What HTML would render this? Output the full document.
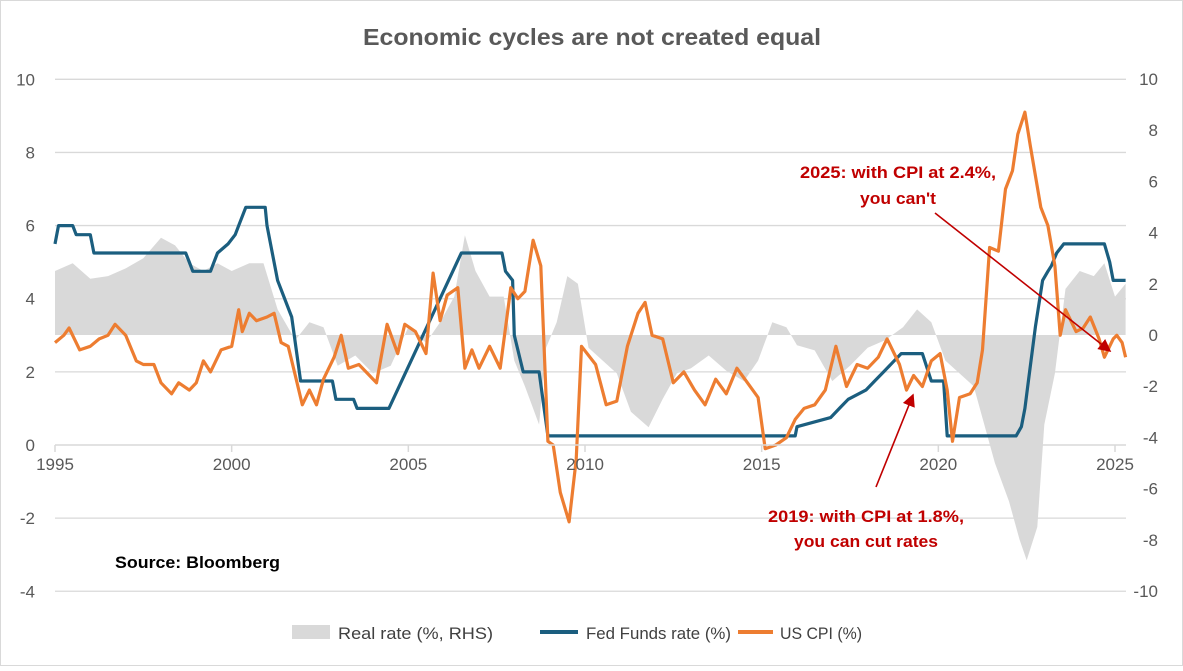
<!DOCTYPE html>
<html><head><meta charset="utf-8"><style>
body{margin:0;background:#fff;}
svg{font-family:"Liberation Sans",Calibri,sans-serif;}
</style></head><body>
<svg id="c" width="1183" height="666">
<rect x="0.5" y="0.5" width="1182" height="665" fill="#fff" stroke="#d9d9d9"/>
<text x="363" y="45" textLength="458" lengthAdjust="spacingAndGlyphs" font-size="23" font-weight="bold" fill="#595959">Economic cycles are not created equal</text>
<g id="grid"></g><g id="area"></g><g id="lines"></g><g id="axes"></g>
<text x="115" y="568" textLength="165" lengthAdjust="spacingAndGlyphs" font-size="17" font-weight="bold" fill="#000">Source: Bloomberg</text>
<g fill="#c00000" font-size="17" font-weight="bold">
<text><tspan x="800" y="178" textLength="196" lengthAdjust="spacingAndGlyphs">2025: with CPI at 2.4%,</tspan><tspan x="860" y="204" textLength="76" lengthAdjust="spacingAndGlyphs">you can't</tspan></text>
<text><tspan x="768" y="522" textLength="196" lengthAdjust="spacingAndGlyphs">2019: with CPI at 1.8%,</tspan><tspan x="794" y="547" textLength="144" lengthAdjust="spacingAndGlyphs">you can cut rates</tspan></text>
</g>
<defs><marker id="ah" markerWidth="8" markerHeight="8" refX="7" refY="4" orient="auto"><path d="M0,0L8,4L0,8z" fill="#c00000"/></marker></defs>
<line x1="935" y1="213" x2="1110" y2="351" stroke="#c00000" stroke-width="1.6" marker-end="url(#ah)"/>
<line x1="876" y1="487" x2="913" y2="395" stroke="#c00000" stroke-width="1.6" marker-end="url(#ah)"/>
<g font-size="17" fill="#404040">
<rect x="292" y="625" width="38" height="14" fill="#d9d9d9"/>
<text x="338" y="639" textLength="155" lengthAdjust="spacingAndGlyphs">Real rate (%, RHS)</text>
<line x1="540" y1="632" x2="578" y2="632" stroke="#1b5e7f" stroke-width="4"/>
<text x="586" y="639" textLength="145" lengthAdjust="spacingAndGlyphs">Fed Funds rate (%)</text>
<line x1="738" y1="632" x2="773" y2="632" stroke="#ed7d31" stroke-width="4"/>
<text x="780" y="639" textLength="82" lengthAdjust="spacingAndGlyphs">US CPI (%)</text>
</g>
</svg>
<script>
const leftTicks=[10,8,6,4,2,0,-2,-4];
const rightTicks=[10,8,6,4,2,0,-2,-4,-6,-8,-10];
const yearTicks=[1995,2000,2005,2010,2015,2020,2025];
const fedT=[1995,1995.1,1995.5,1995.6,1996,1996.1,1998.7,1998.8,1998.9,1999.4,1999.5,1999.6,1999.9,2000.1,2000.2,2000.4,2000.95,2001.0,2001.3,2001.7,2001.95,2002.85,2002.95,2003.45,2003.55,2004.45,2006.5,2007.65,2007.75,2007.95,2008.0,2008.25,2008.7,2008.95,2015.95,2016.0,2016.95,2017.2,2017.45,2017.95,2018.2,2018.45,2018.7,2018.95,2019.55,2019.8,2020.15,2020.25,2022.2,2022.35,2022.45,2022.55,2022.75,2022.95,2023.1,2023.2,2023.35,2023.55,2024.7,2024.85,2024.95,2025.3];
const fedV=[5.5,6,6,5.75,5.75,5.25,5.25,5.0,4.75,4.75,5.0,5.25,5.5,5.75,6.0,6.5,6.5,6.0,4.5,3.5,1.75,1.75,1.25,1.25,1.0,1.0,5.25,5.25,4.75,4.5,3.0,2.0,2.0,0.25,0.25,0.5,0.75,1.0,1.25,1.5,1.75,2.0,2.25,2.5,2.5,1.75,1.75,0.25,0.25,0.5,1.0,1.75,3.25,4.5,4.75,4.9,5.25,5.5,5.5,5.0,4.5,4.5];
const cpiT=[1995,1995.25,1995.4,1995.7,1996,1996.25,1996.5,1996.7,1997,1997.3,1997.5,1997.8,1998,1998.3,1998.5,1998.8,1999,1999.2,1999.4,1999.7,2000,2000.2,2000.3,2000.5,2000.7,2001,2001.2,2001.4,2001.6,2001.8,2002,2002.2,2002.4,2002.6,2002.9,2003.1,2003.3,2003.6,2003.9,2004.1,2004.4,2004.7,2004.9,2005.2,2005.5,2005.7,2005.9,2006.1,2006.4,2006.6,2006.8,2007,2007.3,2007.6,2007.9,2008.1,2008.3,2008.53,2008.75,2008.95,2009.1,2009.3,2009.55,2009.75,2009.9,2010.3,2010.6,2010.9,2011.2,2011.5,2011.7,2011.9,2012.2,2012.5,2012.8,2013.1,2013.4,2013.7,2014,2014.3,2014.6,2014.9,2015.1,2015.4,2015.7,2015.95,2016.2,2016.5,2016.8,2017.1,2017.4,2017.7,2018,2018.3,2018.55,2018.9,2019.1,2019.3,2019.55,2019.8,2020.05,2020.25,2020.4,2020.6,2020.9,2021.1,2021.25,2021.45,2021.7,2021.9,2022.1,2022.25,2022.45,2022.6,2022.9,2023.1,2023.3,2023.45,2023.6,2023.9,2024.1,2024.3,2024.55,2024.7,2024.95,2025.05,2025.2,2025.3];
const cpiV=[2.8,3.0,3.2,2.6,2.7,2.9,3.0,3.3,3.0,2.3,2.2,2.2,1.7,1.4,1.7,1.5,1.7,2.3,2.0,2.6,2.7,3.7,3.1,3.6,3.4,3.5,3.6,2.8,2.7,1.9,1.1,1.5,1.1,1.8,2.4,3.0,2.1,2.2,1.9,1.7,3.3,2.5,3.3,3.1,2.5,4.7,3.4,4.1,4.3,2.1,2.6,2.1,2.7,2.1,4.3,4.0,4.2,5.6,4.9,0.1,0.0,-1.3,-2.1,-0.4,2.7,2.2,1.1,1.2,2.7,3.6,3.9,3.0,2.9,1.7,2.0,1.5,1.1,1.8,1.4,2.1,1.7,1.3,-0.1,0.0,0.2,0.7,1.0,1.1,1.5,2.7,1.6,2.2,2.1,2.4,2.9,2.2,1.5,1.9,1.6,2.3,2.5,1.5,0.1,1.3,1.4,1.7,2.6,5.4,5.3,7.0,7.5,8.5,9.1,8.2,6.5,6.0,4.9,3.0,3.7,3.1,3.2,3.5,2.9,2.4,2.9,3.0,2.8,2.4];
const realT=[1995,1995.5,1996,1996.5,1997,1997.5,1998,1998.4,1998.8,1999.2,1999.6,2000,2000.5,2000.9,2001.3,2001.8,2002.2,2002.6,2003,2003.5,2004,2004.5,2005,2005.5,2005.9,2006.3,2006.6,2006.9,2007.3,2007.7,2008,2008.3,2008.7,2008.9,2009.2,2009.5,2009.8,2010.1,2010.5,2010.9,2011.3,2011.8,2012.2,2012.6,2013,2013.5,2014,2014.5,2014.9,2015.3,2015.7,2016,2016.5,2017,2017.5,2018,2018.5,2019,2019.4,2019.8,2020.2,2020.6,2021,2021.3,2021.6,2022,2022.3,2022.5,2022.8,2023,2023.3,2023.6,2024,2024.4,2024.7,2025,2025.3];
const realV=[2.5,2.8,2.2,2.3,2.6,3.0,3.8,3.5,2.8,2.5,2.8,2.5,2.8,2.8,1.0,-0.2,0.5,0.3,-1.2,-0.8,-1.5,-1.2,0.3,-0.3,0.5,1.5,3.9,2.5,1.5,1.5,-1.0,-2.0,-3.5,-0.5,0.5,2.3,2.0,-0.5,-1.0,-1.5,-3.0,-3.6,-2.5,-1.5,-1.3,-0.8,-1.4,-1.8,-1.0,0.5,0.3,-0.4,-0.6,-1.8,-1.2,-0.5,-0.2,0.3,1.0,0.5,-1.0,-1.5,-2.0,-3.5,-5.0,-6.5,-8.0,-8.8,-7.5,-3.5,-1.5,1.8,2.5,2.3,2.8,1.5,2.0];
const X0=55,X1=1126;
const x=t=>X0+(t-1995)*(1115-X0)/30;
const yL=v=>445-v*36.57;
const yR=v=>335-v*25.6;
const NS='http://www.w3.org/2000/svg';
function mk(tag,attrs,parent){const e=document.createElementNS(NS,tag);for(const k in attrs)e.setAttribute(k,attrs[k]);document.getElementById(parent).appendChild(e);return e;}
leftTicks.forEach(v=>{
  if(v!==0){const g=mk('line',{x1:X0,x2:X1,y1:yL(v),y2:yL(v),stroke:'#d9d9d9','stroke-width':1.3},'grid');
  
  }
  const t=mk('text',{x:35,y:yL(v)+6,'text-anchor':'end','font-size':17,fill:'#595959'},'axes');t.textContent=v;
  
  
});
rightTicks.forEach(v=>{
  const t=mk('text',{x:1158,y:yR(v)+6,'text-anchor':'end','font-size':17,fill:'#595959'},'axes');t.textContent=v;
  
  
});
const ax=mk('line',{x1:X0,x2:X1,y1:yL(0),y2:yL(0),stroke:'#d9d9d9','stroke-width':1.5},'axes');


yearTicks.forEach(y=>{
  const tk=mk('line',{x1:x(y),x2:x(y),y1:yL(0),y2:yL(0)+7,stroke:'#d9d9d9','stroke-width':1.5},'axes');
  
  
  const t=mk('text',{x:x(y),y:yL(0)+25,'text-anchor':'middle','font-size':17,fill:'#595959'},'axes');t.textContent=y;
  
  
});
let d='M'+x(realT[0])+','+yR(0);
realT.forEach((t,i)=>{d+='L'+x(t).toFixed(1)+','+yR(realV[i]).toFixed(1);});
d+='L'+x(realT[realT.length-1])+','+yR(0)+'Z';
const ar=mk('path',{d:d,fill:'#d9d9d9'},'area');


function line(T,V,col,name){const p=mk('polyline',{points:T.map((t,i)=>x(t).toFixed(1)+','+yL(V[i]).toFixed(1)).join(' '),fill:'none',stroke:col,'stroke-width':3.2,'stroke-linejoin':'round'},'lines');

}
line(fedT,fedV,'#1b5e7f','fed-funds-line');
line(cpiT,cpiV,'#ed7d31','us-cpi-line');
</script>
</body></html>
